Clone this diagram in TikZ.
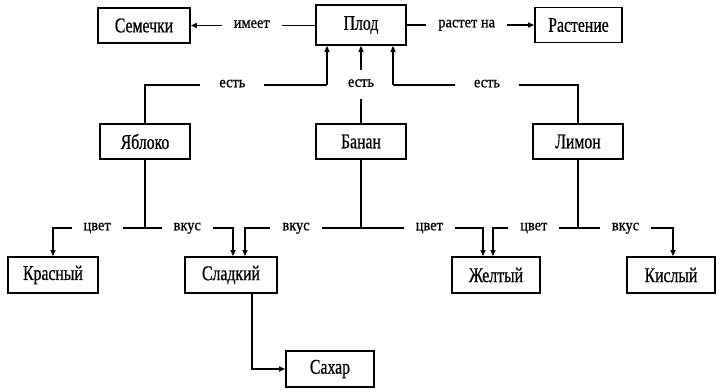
\documentclass[tikz,border=0pt]{standalone}
\usepackage{fontspec}
\setmainfont{Liberation Serif}
\newfontfamily\boxfont[FakeStretch=0.75,FakeBold=0.6]{Liberation Serif}
\newfontfamily\lblfont[FakeStretch=0.9,FakeBold=0.8]{Liberation Serif}
\usetikzlibrary{arrows.meta}
\begin{document}
\begin{tikzpicture}[x=1pt,y=-1pt,
  box/.style={draw,line width=1.8pt,minimum width=90pt,minimum height=35pt,inner sep=0pt,
    font=\boxfont\fontsize{21}{21}\selectfont},
  lbl/.style={fill=white,inner xsep=12pt,inner ysep=2pt,text height=1ex,text depth=0pt,
    font=\lblfont\fontsize{16}{16}\selectfont},
  wide/.style={inner xsep=19pt},
  conn/.style={line width=1.2pt},
  arr/.style={conn,-{Triangle[length=6pt,width=5pt]}}]
\useasboundingbox[fill=white] (0,0) rectangle (717,389);
% nodes
\node[box,minimum width=92pt] (sem) at (144,25.5) {Семечки};
\node[box,minimum height=40pt] (plod) at (361,25) {Плод};
\node[box,minimum width=87pt] (rast) at (578.5,25) {Растение};
\node[box] (yab) at (145,141.5) {Яблоко};
\node[box] (ban) at (361,141.5) {Банан};
\node[box] (lim) at (578,141.5) {Лимон};
\node[box,minimum height=36pt] (kras) at (53,275) {Красный};
\node[box,minimum width=92pt,minimum height=36pt] (slad) at (231,275) {Сладкий};
\node[box,minimum width=88pt,minimum height=36pt] (zhel) at (496,275) {Желтый};
\node[box,minimum width=88pt,minimum height=36pt] (kis) at (671,275) {Кислый};
\node[box,minimum width=88pt,minimum height=36pt] (sah) at (330,369) {Сахар};
% top relations
\draw[arr] (plod.west |- sem.east) -- node[lbl,pos=0.51]{имеет} (sem.east);
\draw[arr] (plod.east |- rast.west) -- node[lbl,pos=0.47]{растет на} (rast.west);
% "есть" relations
\coordinate (eL) at (327,85);
\coordinate (eR) at (393,85);
\draw[conn] (yab.north) |- node[lbl,wide,pos=0.74]{есть} (eL);
\draw[arr] (eL) -- (eL |- plod.south);
\draw[arr] (ban.north) -- node[lbl,inner ysep=12pt]{есть} (plod.south);
\draw[conn] (lim.north) |- node[lbl,wide,pos=0.746]{есть} (eR);
\draw[arr] (eR) -- (eR |- plod.south);
% lower junctions
\coordinate (yT) at (145,228);
\coordinate (bT) at (361,228);
\coordinate (lT) at (578,228);
\draw[conn] (yab.south) -- (yT);
\draw[conn] (ban.south) -- (bT);
\draw[conn] (lim.south) -- (lT);
\draw[arr] (yT) -| node[lbl,pos=0.26]{цвет} (kras.north);
\draw[arr] (yT) -| node[lbl,pos=0.24]{вкус} ([xshift=2pt]slad.north);
\draw[arr] (bT) -| node[lbl,pos=0.28]{вкус} ([xshift=14pt]slad.north);
\draw[arr] (bT) -| node[lbl,pos=0.28]{цвет} ([xshift=-13pt]zhel.north);
\draw[arr] (lT) -| node[lbl,pos=0.26]{цвет} ([xshift=-3pt]zhel.north);
\draw[arr] (lT) -| node[lbl,pos=0.25]{вкус} ([xshift=2pt]kis.north);
% sugar
\draw[arr] ([xshift=21pt]slad.south) |- (sah.west);
\end{tikzpicture}
\end{document}
